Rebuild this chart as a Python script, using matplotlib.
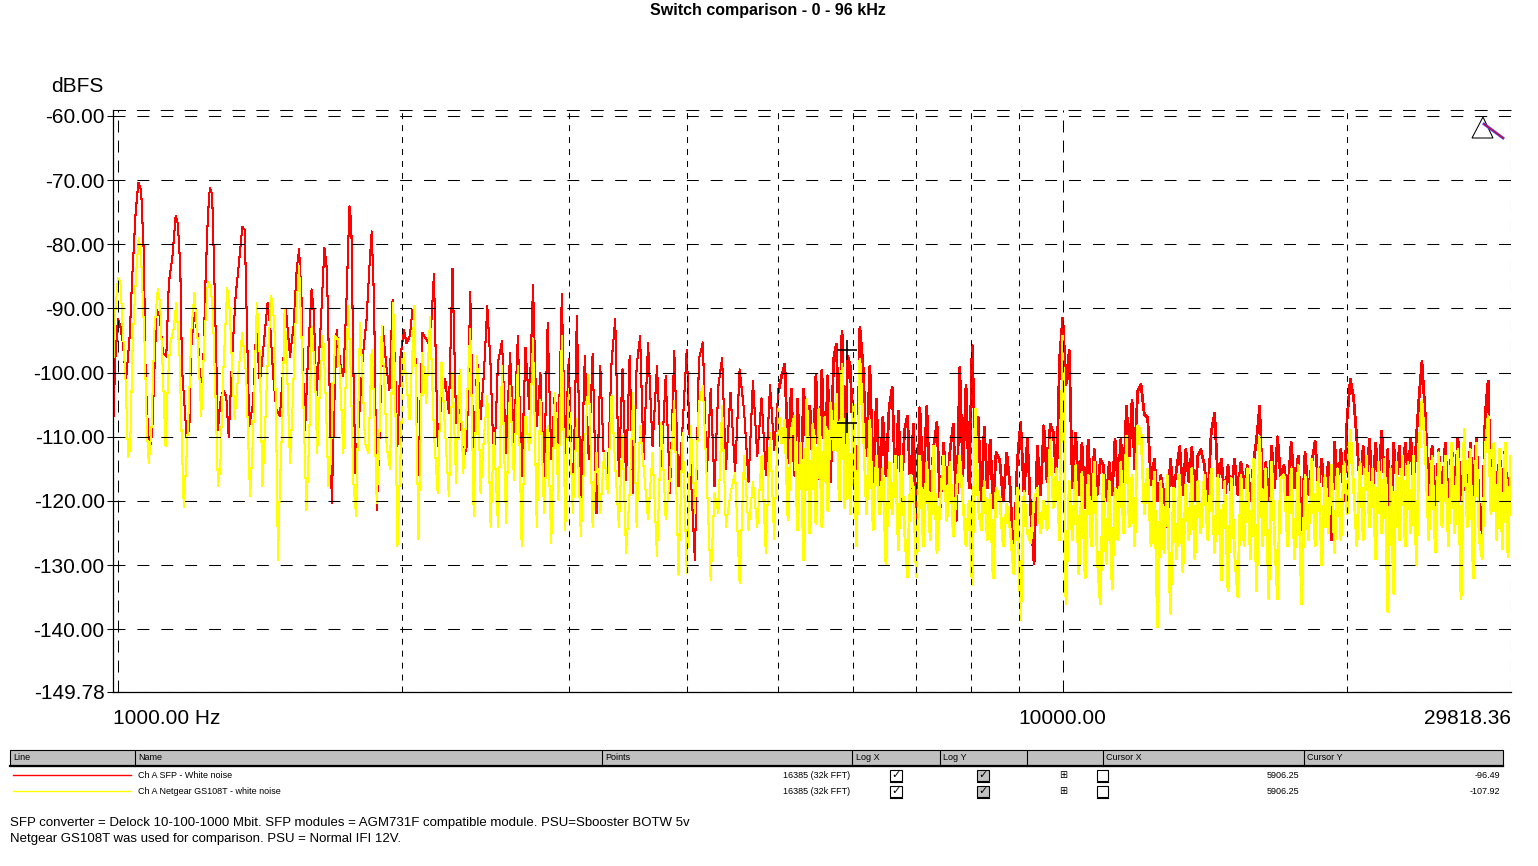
import numpy as np
import matplotlib
matplotlib.use('Agg')
import matplotlib.pyplot as plt
from matplotlib.patches import Rectangle, Polygon
from matplotlib.lines import Line2D
from matplotlib.transforms import ScaledTranslation

plt.rcParams['font.family'] = ['Liberation Sans', 'DejaVu Sans']
plt.rcParams['lines.scale_dashes'] = False

W, H = 1538, 866

# ---------------- data ----------------
title = 'Switch comparison - 0 - 96 kHz'
series_names = ['Ch A SFP - White noise', 'Ch A Netgear GS108T - white noise']
series_points = ['16385 (32k FFT)', '16385 (32k FFT)']
series_colors = ['#ff0000', '#ffff00']
cursor_x = [5906.25, 5906.25]
cursor_y = [-96.49, -107.92]
notes = ['SFP converter = Delock 10-100-1000 Mbit. SFP modules = AGM731F compatible module. PSU=Sbooster BOTW 5v',
         'Netgear GS108T was used for comparison. PSU = Normal IFI 12V.']

x_min, x_max = 988.0, 29818.36
y_min, y_max = -149.78, -59.07
y_ticks = [-149.78, -140, -130, -120, -110, -100, -90, -80, -70, -60]
x_major = [1000, 10000, 29818.36]
x_major_labels = ['1000.00 Hz', '10000.00', '29818.36']
x_minor = [2000, 3000, 4000, 5000, 6000, 7000, 8000, 9000, 20000]

# 1 - 2 kHz, red trace (read peak by peak)
red_lo_f = [988, 990, 994, 1000, 1006, 1012, 1020, 1029, 1035, 1044, 1051, 1058, 1065, 1070, 1076, 1080,
            1087, 1093, 1099, 1107, 1116, 1125, 1132, 1142, 1151, 1157, 1164, 1169, 1175, 1182, 1190, 1195,
            1204, 1215, 1222, 1230, 1238, 1245, 1251, 1258, 1264, 1272, 1276, 1283, 1292, 1302, 1310, 1321,
            1332, 1343, 1354, 1362, 1370, 1377, 1390, 1401, 1413, 1427, 1440, 1450, 1460, 1471, 1484, 1493,
            1506, 1521, 1534, 1546, 1555, 1564, 1569, 1578, 1589, 1603, 1612, 1622, 1637, 1654, 1664, 1674,
            1684, 1693, 1704, 1719, 1732, 1744, 1758, 1766, 1775, 1784, 1793, 1804, 1816, 1833, 1845, 1856,
            1867, 1879, 1891, 1906, 1925, 1938, 1953, 1966, 1976, 1991, 2008, 2020, 2037, 2050]
red_lo_db = [-109.9, -104.7, -97.5, -91.7, -92.8, -95.4, -101.1, -94.3, -85.5, -75.1, -70.4, -71.5, -81.3,
             -101.1, -108.9, -112.3, -109.4, -99.5, -90.2, -91.2, -96.9, -97.5, -86.0, -81.9, -75.6, -76.7,
             -83.4, -99.5, -104.2, -110.0, -108.9, -96.4, -90.7, -94.3, -101.6, -100.6, -85.5, -75.6, -71.2,
             -72.2, -83.4, -100.1, -108.9, -104.7, -102.7, -103.7, -110.0, -97.5, -88.1, -82.9, -77.3, -77.7,
             -94.3, -108.4, -104.7, -92.8, -101.6, -95.4, -89.1, -93.2, -100.6, -105.8, -106.8, -101.1, -90.2,
             -97.5, -92.8, -83.9, -80.8, -88.1, -98.5, -108.9, -97.5, -87.0, -90.7, -103.7, -94.3, -80.5,
             -83.9, -100.6, -120.3, -106.8, -93.3, -98.5, -100.6, -90.2, -74.1, -76.7, -99.5, -115.7, -111.0,
             -104.7, -97.5, -91.7, -83.9, -78.0, -89.1, -121.4, -111.0, -92.8, -99.5, -102.7, -88.6, -100.6,
             -111.5, -97.5, -93.3, -95.4, -94.3, -90.2]

# 1 - 2 kHz, yellow trace
yel_lo_f = [988, 994, 1000, 1006, 1012, 1019, 1025, 1030, 1037, 1046, 1052, 1058, 1067, 1073, 1078, 1085,
            1093, 1102, 1108, 1116, 1123, 1130, 1136, 1145, 1153, 1162, 1168, 1174, 1181, 1189, 1196, 1205,
            1215, 1225, 1235, 1245, 1253, 1260, 1269, 1276, 1283, 1292, 1305, 1313, 1321, 1329, 1340, 1354,
            1367, 1375, 1380, 1390, 1403, 1413, 1422, 1430, 1441, 1453, 1464, 1471, 1477, 1484, 1493, 1501,
            1510, 1521, 1531, 1540, 1555, 1564, 1573, 1583, 1594, 1603, 1616, 1625, 1638, 1649, 1660, 1670,
            1679, 1698, 1711, 1723, 1732, 1744, 1753, 1763, 1775, 1787, 1797, 1804, 1816, 1826, 1841, 1856,
            1867, 1879, 1891, 1902, 1913, 1925, 1941, 1956, 1966, 1976, 1989, 2006, 2022, 2035, 2052]
yel_lo_db = [-99.5, -90.2, -85.2, -86.0, -93.3, -101.6, -113.1, -112.0, -94.3, -83.9, -79.0, -81.9, -95.4,
             -108.9, -114.1, -108.9, -93.3, -87.0, -89.1, -100.6, -111.5, -100.6, -95.4, -93.3, -89.1, -97.5,
             -110.0, -120.9, -114.1, -104.7, -93.3, -87.6, -95.4, -106.8, -94.3, -85.8, -86.5, -90.2, -104.7,
             -117.7, -115.1, -100.6, -86.8, -90.2, -99.5, -107.3, -100.6, -93.8, -100.6, -112.5, -119.3,
             -110.0, -89.1, -97.5, -117.7, -110.0, -97.5, -88.1, -92.3, -110.0, -129.2, -117.7, -106.8, -90.2,
             -99.5, -114.1, -104.7, -93.3, -83.4, -94.3, -107.3, -121.4, -110.0, -92.8, -99.5, -112.5, -100.6,
             -94.3, -104.7, -117.7, -114.1, -94.3, -94.9, -104.7, -112.5, -99.5, -89.6, -99.5, -117.2, -122.4,
             -104.7, -92.3, -101.6, -111.0, -112.5, -96.4, -104.7, -120.3, -110.0, -92.8, -100.6, -111.5,
             -115.1, -89.1, -104.7, -127.1, -115.1, -96.9, -102.2, -107.3, -95.4]

# above 2 kHz both traces are read on the same frequency points
grid_f = np.concatenate([
    np.arange(2060, 2501, 20), np.arange(2525, 3001, 25), np.arange(3030, 3601, 30),
    np.arange(3640, 4401, 40), np.arange(4450, 5001, 50), np.arange(5040, 6001, 40),
    np.arange(6050, 7001, 50), np.arange(7060, 8501, 60), np.arange(8575, 10001, 75),
    np.arange(10080, 12001, 80), np.arange(12100, 14001, 100), np.arange(14120, 17001, 120),
    np.arange(17150, 20001, 150), np.arange(20160, 24001, 160), np.arange(24200, 29801, 200)])

red_hi_db = [
    # 2060 - 2500
    -91.7, -116, -93.8, -94.8, -95.8, -84.6, -111.5, -104.2, -101, -106.3, -83.8, -107.8, -104.2, -113.5,
    -111.5, -87.5, -115.1, -97.9, -107.3, -100, -89.6, -99, -115.1,
    # 2525 - 3000
    -98.4, -95.1, -112.5, -96.9, -110.9, -94.3, -116.1, -96.1, -105.7, -86.4, -108.3, -100, -116.1, -92.2,
    -113.5, -103.1, -111.5, -87.8, -112.5, -97.9,
    # 3030 - 3600
    -121.9, -91.1, -119.8, -97.4, -113.5, -97.1, -121.9, -99, -114.6, -115.6, -98.4, -91.7, -116.1, -99.5,
    -116.7, -97.4, -118.8, -99, -94.3, -113.5,
    # 3640 - 4400
    -95.3, -111.5, -99, -114.6, -100.5, -118.8, -96.6, -117.7, -108.3, -96.4, -116.1, -129.2, -97.9, -95.3,
    -116.1, -102.6, -117.7, -102.1, -97.7, -115.1,
    # 4450 - 5000
    -103.1, -115.6, -99.5, -106, -117, -101.3, -113, -104, -116, -102, -112, -103,
    # 5040 - 6000
    -100.5, -98.7, -114, -102.6, -116, -104.2, -117.7, -102.6, -113, -105.2, -115.5, -100.5, -116.5, -99.7,
    -115, -100.5, -117, -97.9, -95.6, -110, -93.5, -116, -97.4, -99, -112,
    # 6050 - 7000
    -124, -93, -99.5, -113, -99, -117, -104.2, -118, -107, -116, -105.5, -102.3, -118, -106, -120, -109,
    -106.8, -118, -108, -126,
    # 7060 - 8500
    -105.5, -118, -105.3, -120, -111.5, -107.8, -121, -111, -119, -112, -108, -123, -99.2, -116, -102, -118,
    -95.8, -113, -107, -120, -108.5, -118, -110.5, -121, -112.5,
    # 8575 - 10000
    -113.5, -120, -112.5, -118, -130.7, -114, -107.8, -119, -110.4, -121.9, -129.7, -111.5, -119, -108.3,
    -117, -108, -109.4, -117, -97.7, -91.5,
    # 10080 - 12000
    -101.8, -96.6, -118, -109.4, -119, -111, -121, -110.5, -120, -112, -119, -113.5, -114.5, -120, -114,
    -119, -110.4, -118, -110.4, -117, -105.2, -113, -104.4, -115, -102.9,
    # 12100 - 14000
    -101.8, -106.5, -107, -117.5, -113.5, -120, -116, -119, -124, -113.5, -118.5, -115, -111.5, -119, -112,
    -117, -111.7, -120, -113, -112,
    # 14120 - 17000
    -114.3, -120, -109.4, -106.3, -117, -113.5, -119.5, -114.5, -119, -113.5, -119, -114, -118, -114.5, -120,
    -114, -110.4, -105.2, -119, -114, -120, -111.5, -118, -110, -116,
    # 17150 - 20000
    -114.5, -119, -110.9, -118, -113, -124.5, -112.5, -119, -114, -110.7, -118, -113.5, -120, -114, -126,
    -110.9, -118, -112, -120, -107,
    # 20160 - 24000
    -101, -104, -110.4, -118, -111.5, -117, -110.4, -119, -111, -117, -109.1, -118, -112, -125.3, -111, -117,
    -111.5, -118, -111, -116, -110.2, -118, -110, -103.6, -98.3,
    # 24200 - 29800
    -106.8, -119, -111.5, -121, -112, -120, -111, -121, -111.5, -118, -110.2, -120, -113.5, -122, -111, -119,
    -110.2, -121, -125, -106.5, -101.3, -119, -112, -120, -112.5, -119, -111.5, -124, -113]

yel_hi_db = [
    # 2060 - 2500
    -89.6, -126, -96.9, -104.7, -91.4, -109.4, -118.8, -98.4, -109.4, -119.3, -100, -117.2, -99.5, -115.6,
    -105, -93.2, -122.4, -97.4, -118.8, -110, -103.6, -124, -109.4,
    # 2525 - 3000
    -124, -99, -123.4, -102.1, -116.7, -99, -127.1, -106.8, -112, -94.8, -124, -104.2, -121.9, -108.3,
    -126.6, -103.1, -119.8, -94.3, -124.5, -102.6,
    # 3030 - 3600
    -121.9, -107.3, -125.5, -111.5, -100.3, -124, -112.5, -121.9, -112.5, -118.8, -103.6, -114.6, -124,
    -109.9, -128.1, -118.8, -103.1, -124, -108.3, -114.6,
    # 3640 - 4400
    -122.9, -112.5, -128.6, -107.8, -122.9, -116.1, -104.4, -131.5, -109.4, -131.3, -108.3, -121.9, -104.7,
    -102.1, -116.7, -132.3, -118.8, -121.9, -105.2, -124,
    # 4450 - 5000
    -118.8, -115.6, -132.8, -113, -124.5, -117, -124, -113, -128.1, -109.4, -126, -105.7,
    # 5040 - 6000
    -111, -107.5, -122.9, -109, -106.8, -124.5, -111, -129.2, -104.2, -125, -108, -123.5, -105.7, -124, -107,
    -121.5, -104.7, -112, -103.4, -120, -98.7, -121, -107.9, -122, -105,
    # 6050 - 7000
    -127, -98, -108.5, -122, -107.5, -124.5, -113, -122, -115, -129.7, -114, -122, -113, -127.6, -113,
    -124.5, -131.8, -116, -118, -131.8,
    # 7060 - 8500
    -113, -127, -114, -126, -111.5, -128, -120, -113, -123, -114, -125.5, -118, -113, -120, -127, -120, -133,
    -105.7, -121, -124.5, -117, -126, -119, -132, -118,
    # 8575 - 10000
    -119.5, -127, -120.5, -124.5, -131.3, -118, -138.5, -118.5, -125, -126.5, -120, -118, -125, -120, -124.5,
    -110.5, -121, -115, -126, -94.3,
    # 10080 - 12000
    -136, -117, -126, -114.5, -131.3, -115.5, -132, -116, -127, -114, -129, -136, -116, -129.7, -117, -133.6,
    -118, -126, -114, -125, -109.9, -124, -116, -127, -108.3,
    # 12100 - 14000
    -109, -122, -115, -127, -115.5, -139.6, -117, -128, -116, -137.5, -118, -129, -116, -131, -117.5, -126,
    -115, -129, -117, -125,
    # 14120 - 17000
    -116, -126, -115, -128, -116, -132.3, -117, -134, -116.5, -128, -134.9, -116, -127, -115, -129, -113.5,
    -134, -110, -127, -115, -135.2, -114, -126, -135.2, -116.5,
    # 17150 - 20000
    -116, -127, -115, -129, -114.5, -136, -116, -126, -113.5, -127, -115, -130, -116, -125, -114.5, -128,
    -115, -126, -114, -122,
    # 20160 - 24000
    -109, -118, -127, -114, -126, -113, -124, -115, -129, -114, -125, -113.5, -137.2, -115, -134.4, -114,
    -126, -113, -127, -114, -125, -113, -130, -111, -104.4,
    # 24200 - 29800
    -112, -126, -113, -128, -112.5, -124, -113, -127, -111, -125, -112, -135.2, -108.9, -124, -112, -132,
    -111, -126, -129, -112, -106.8, -122, -111, -126, -112, -127.5, -111, -128.6, -113]

red_f = np.concatenate([red_lo_f, grid_f])
red_db = np.concatenate([red_lo_db, red_hi_db])
yel_f = np.concatenate([yel_lo_f, grid_f])
yel_db = np.concatenate([yel_lo_db, yel_hi_db])


def fx(x):
    return x / W


def fy(y):
    return 1 - y / H


fig = plt.figure(figsize=(W / 100, H / 100), dpi=100)
fig.patch.set_facecolor('white')

ax = fig.add_axes([fx(113), fy(692), (1511 - 113) / W, (692 - 110) / H])
ax.set_xscale('log')

# the bins get packed tighter with frequency, so the upper part of each trace reads as a band
split = 5000
for f, db, col, z in [(red_f, red_db, series_colors[0], 2), (yel_f, yel_db, series_colors[1], 2.1)]:
    lo = f <= split
    hi = f >= split
    ax.plot(f[lo], db[lo], color=col, lw=0.75, antialiased=False, zorder=z)
    ax.plot(f[hi], db[hi], color=col, lw=1.3, antialiased=False, zorder=z)
ax.plot(cursor_x, cursor_y, '+', color='black', ms=15, mew=1.2, zorder=4)

ax.set_xlim(x_min, x_max)
ax.set_ylim(y_min, y_max)

# x axis
ax.set_xticks(x_major)
ax.set_xticklabels(x_major_labels)
ax.set_xticks(x_minor, minor=True)
ax.xaxis.set_minor_formatter(plt.NullFormatter())
ax.tick_params(axis='x', which='both', length=0, pad=12, labelsize=15)
labs = ax.get_xticklabels()
labs[0].set_ha('left')
labs[0].set_transform(labs[0].get_transform() + ScaledTranslation(-0.05, 0, fig.dpi_scale_trans))
labs[1].set_ha('center')
labs[2].set_ha('right')

# y axis
ax.set_yticks(y_ticks)
ax.set_yticklabels([f'{v:.2f}' for v in y_ticks])
ax.yaxis.set_minor_locator(plt.NullLocator())
ax.tick_params(axis='y', which='major', direction='inout', length=8, width=0.75, pad=2, labelsize=15)

# grid drawn over the traces
ax.set_axisbelow(False)
ax.grid(True, axis='y', color='black', lw=0.75, linestyle=(0, (8.6, 8.6)), zorder=3)
ax.grid(True, axis='x', which='major', color='black', lw=0.75, linestyle=(0, (8.6, 5.8)), zorder=3)
ax.grid(True, axis='x', which='minor', color='black', lw=0.75, linestyle=(0, (4.3, 4.3)), zorder=3)

for side in ['left', 'bottom']:
    ax.spines[side].set_linewidth(0.9)
ax.spines['right'].set_visible(False)
ax.spines['top'].set_linestyle((0, (8.6, 8.6)))
ax.spines['top'].set_linewidth(0.75)

fig.text(fx(768), fy(11), title, ha='center', va='center', fontsize=11.5, fontweight='bold')
fig.text(fx(77), fy(86), 'dBFS', ha='center', va='center', fontsize=15)

# little icon top right of plot
tri = Polygon([[fx(1472), fy(138)], [fx(1483), fy(117)], [fx(1493), fy(138)]], closed=True, fill=False,
              edgecolor='black', lw=0.75, transform=fig.transFigure)
fig.patches.append(tri)
fig.lines.append(Line2D([fx(1484), fx(1503)], [fy(124), fy(138)], color='#3040ff', lw=2.0,
                        transform=fig.transFigure))
fig.lines.append(Line2D([fx(1484), fx(1503)], [fy(124), fy(138)], color='#ff0000', lw=0.8,
                        transform=fig.transFigure))

# ---------------- table ----------------
tfs = 6.5
fig.patches.append(Rectangle((fx(10), fy(766)), (1503 - 10) / W, 16 / H, facecolor='#c0c0c0',
                             edgecolor='black', lw=0.8, transform=fig.transFigure))
fig.lines.append(Line2D([fx(10), fx(1503)], [fy(766), fy(766)], color='black', lw=1.6,
                        transform=fig.transFigure))
col_x = [135, 602, 852, 940, 1027, 1103, 1304]
for cx in col_x:
    fig.lines.append(Line2D([fx(cx), fx(cx)], [fy(750), fy(766)], color='black', lw=0.8,
                            transform=fig.transFigure))
headers = [(13, 'Line'), (138, 'Name'), (605, 'Points'), (856, 'Log X'), (943, 'Log Y'),
           (1106, 'Cursor X'), (1307, 'Cursor Y')]
for hx, txt in headers:
    fig.text(fx(hx), fy(758), txt, ha='left', va='center', fontsize=tfs)


def checkbox(xc, yc, checked, face):
    fig.patches.append(Rectangle((fx(xc - 5.5), fy(yc + 5.5)), 11 / W, 11 / H, facecolor=face,
                                 edgecolor='black', lw=0.8, transform=fig.transFigure))
    fig.lines.append(Line2D([fx(xc - 5.5), fx(xc + 5.5)], [fy(yc + 6.5), fy(yc + 6.5)], color='black',
                            lw=0.8, transform=fig.transFigure))
    if checked:
        fig.text(fx(xc), fy(yc), '\u2713', ha='center', va='center', fontsize=8, fontweight='bold',
                 family='DejaVu Sans')


row_y = [775, 791]
for i, ry in enumerate(row_y):
    fig.lines.append(Line2D([fx(13), fx(131)], [fy(ry), fy(ry)], color=series_colors[i], lw=1.0,
                            transform=fig.transFigure))
    fig.text(fx(138), fy(ry), series_names[i], ha='left', va='center', fontsize=tfs)
    fig.text(fx(850), fy(ry), series_points[i], ha='right', va='center', fontsize=tfs)
    checkbox(896, ry, True, 'white')
    checkbox(983, ry, True, '#c0c0c0')
    fig.text(fx(1063), fy(ry), '\u229e', ha='center', va='center', fontsize=7, family='DejaVu Sans')
    checkbox(1102, ry, False, 'white')
    fig.text(fx(1299), fy(ry), f'{cursor_x[i]:.2f}', ha='right', va='center', fontsize=tfs)
    fig.text(fx(1500), fy(ry), f'{cursor_y[i]:.2f}', ha='right', va='center', fontsize=tfs)

fig.text(fx(10), fy(823), notes[0], ha='left', va='center', fontsize=9.5)
fig.text(fx(10), fy(839), notes[1], ha='left', va='center', fontsize=9.5)

fig.savefig('out.png', dpi=100)
